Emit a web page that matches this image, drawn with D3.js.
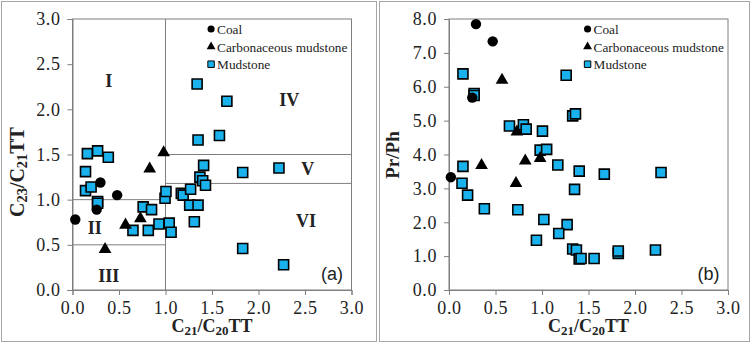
<!DOCTYPE html>
<html>
<head>
<meta charset="utf-8">
<script src="https://cdn.jsdelivr.net/npm/d3@7"></script>
<style>
  body { margin: 0; background: #fff; }
  svg { display: block; }
</style>
</head>
<body>
<div id="chart"></div>
<script>
// values, [x, y]
const coalA = [[0.03, 0.78], [0.26, 0.89], [0.30, 1.19], [0.48, 1.05]];
const carbA = [[0.35, 0.45], [0.57, 0.72], [0.73, 0.79], [0.83, 1.34], [0.98, 1.52]];
const mudA = [
  [1.34, 2.28], [1.66, 2.09], [1.58, 1.71], [1.35, 1.66],
  [0.16, 1.51], [0.27, 1.54], [0.385, 1.47], [0.14, 1.31], [0.14, 1.10], [0.20, 1.14],
  [0.27, 0.98], [0.27, 0.96], [0.76, 0.92], [0.85, 0.89], [0.65, 0.66], [0.815, 0.66],
  [0.93, 0.73], [1.04, 0.74], [1.06, 0.64], [0.995, 1.015], [1.005, 1.09],
  [1.17, 1.07], [1.19, 1.05], [1.27, 1.115], [1.26, 0.94], [1.35, 0.94], [1.31, 0.756],
  [1.41, 1.38], [1.37, 1.25], [1.40, 1.21], [1.43, 1.16], [1.83, 1.30], [2.22, 1.35],
  [1.83, 0.46], [2.27, 0.28]
];

const coalB = [[0.29, 7.85], [0.47, 7.34], [0.25, 5.68], [0.02, 3.33]];
const carbB = [[0.57, 6.2], [0.35, 3.68], [0.73, 4.67], [0.82, 3.81], [0.98, 3.89], [0.72, 3.15]];
const mudB = [
  [0.15, 6.38], [0.27, 5.8], [0.27, 5.74], [1.26, 6.34], [1.33, 5.14], [1.36, 5.2],
  [0.65, 4.84], [0.80, 4.88], [0.83, 4.75], [1.005, 4.69], [0.98, 4.13], [1.05, 4.15],
  [1.17, 3.69], [1.40, 3.51], [1.35, 2.97], [1.67, 3.42], [2.28, 3.47],
  [0.15, 3.65], [0.14, 3.15], [0.20, 2.8], [0.38, 2.4], [0.74, 2.37],
  [1.02, 2.08], [1.27, 1.93], [1.18, 1.67], [0.94, 1.47],
  [1.33, 1.21], [1.37, 1.18], [1.40, 0.92], [1.42, 0.93], [1.56, 0.93],
  [1.82, 1.08], [1.82, 1.15], [2.22, 1.18]
];

const xTicks = [0, 0.5, 1, 1.5, 2, 2.5, 3];
const yTicksA = [0, 0.5, 1, 1.5, 2, 2.5, 3];
const yTicksB = [0, 1, 2, 3, 4, 5, 6, 7, 8];

// field boundaries of panel (a): [x1, y1, x2, y2]
const linesA = [[1, 0, 1, 3], [0, 1, 1, 1], [0, 0.5, 1, 0.5], [1, 1.5, 3, 1.5], [1, 1.18, 3, 1.18]];
const regionNames = ["I", "II", "III", "IV", "V", "VI"];
const regionPos = [[0.39, 2.31], [0.24, 0.69], [0.39, 0.16], [2.33, 2.1], [2.53, 1.34], [2.51, 0.76]];

const legendNames = ["Coal", "Carbonaceous mudstone", "Mudstone"];

const blue = "#1ab2ec";
const serif = "'Liberation Serif', 'Times New Roman', serif";

const svg = d3.select("#chart").append("svg")
  .attr("width", 754)
  .attr("height", 345);

// panel frames
svg.append("rect").attr("x", 1.5).attr("y", 1.5).attr("width", 375).attr("height", 340)
  .attr("fill", "none").attr("stroke", "#a6a6a6");
svg.append("rect").attr("x", 379.5).attr("y", 1.5).attr("width", 370).attr("height", 340)
  .attr("fill", "none").attr("stroke", "#a6a6a6");

function subText(sel, parts) {
  parts.forEach(p => {
    const t = sel.append("tspan").text(p[0]);
    if (p[1]) t.attr("font-size", "0.72em").attr("baseline-shift", "-22%");
  });
}

function drawPanel(left, yMax, yTicks, coal, carb, mud, tag) {
  const x = d3.scaleLinear().domain([0, 3]).range([left, left + 279]);
  const y = d3.scaleLinear().domain([0, yMax]).range([290, 19]);
  const g = svg.append("g");

  // frame of plot area
  g.append("rect")
    .attr("x", x(0)).attr("y", y(yMax))
    .attr("width", x(3) - x(0)).attr("height", y(0) - y(yMax))
    .attr("fill", "none").attr("stroke", "#7f7f7f").attr("stroke-width", 1);

  const ax = g.append("g")
    .attr("transform", `translate(0,${y(0)})`)
    .call(d3.axisBottom(x).tickValues(xTicks).tickFormat(d3.format(".1f")).tickSize(5).tickPadding(6));
  const ay = g.append("g")
    .attr("transform", `translate(${x(0)},0)`)
    .call(d3.axisLeft(y).tickValues(yTicks).tickFormat(d3.format(".1f")).tickSize(5).tickPadding(7));
  [ax, ay].forEach(a => {
    a.attr("font-family", serif).attr("font-size", 18);
    a.select(".domain").attr("stroke", "#7f7f7f");
    a.selectAll(".tick line").attr("stroke", "#7f7f7f");
    a.selectAll(".tick text")
      .attr("font-family", serif).attr("font-size", 18).attr("letter-spacing", 0.6).attr("fill", "#222");
  });

  // layer for boundary lines, under the marks
  const under = g.append("g");

  const sym = d3.symbol();
  g.selectAll("path.mud").data(mud).join("path")
    .attr("class", "mud")
    .attr("transform", d => `translate(${x(d[0])},${y(d[1])})`)
    .attr("d", sym.type(d3.symbolSquare).size(100)())
    .attr("fill", blue).attr("stroke", "#000").attr("stroke-width", 1.6);
  g.selectAll("path.coal").data(coal).join("path")
    .attr("class", "coal")
    .attr("transform", d => `translate(${x(d[0])},${y(d[1])})`)
    .attr("d", sym.type(d3.symbolCircle).size(85)())
    .attr("fill", "#000");
  g.selectAll("path.carb").data(carb).join("path")
    .attr("class", "carb")
    .attr("transform", d => `translate(${x(d[0])},${y(d[1])})`)
    .attr("d", sym.type(d3.symbolTriangle).size(70)())
    .attr("fill", "#000");

  // legend
  const lx = x(1.49);
  const leg = g.selectAll("g.leg").data(legendNames).join("g")
    .attr("class", "leg")
    .attr("transform", (d, i) => `translate(${lx},${29 + i * 17.6})`);
  leg.append("path")
    .attr("d", (d, i) => d3.symbol().type([d3.symbolCircle, d3.symbolTriangle, d3.symbolSquare][i]).size([40, 34, 42][i])())
    .attr("fill", (d, i) => i === 2 ? blue : "#000")
    .attr("stroke", (d, i) => i === 2 ? "#000" : "none");
  leg.append("text")
    .attr("x", 6).attr("y", 5)
    .attr("font-family", serif).attr("font-size", 13.3).attr("fill", "#222")
    .text(d => d);

  // panel tag
  g.append("text")
    .attr("x", x(2.79)).attr("y", y(0) - 10)
    .attr("text-anchor", "middle")
    .attr("font-family", "'Liberation Sans', Arial, sans-serif").attr("font-size", 18).attr("fill", "#222")
    .text(tag);

  // x title
  const xt = g.append("text")
    .attr("x", x(1.5)).attr("y", 332)
    .attr("text-anchor", "middle")
    .attr("font-family", serif).attr("font-size", 18).attr("font-weight", "bold").attr("fill", "#222");
  subText(xt, [["C"], ["21", 1], ["/C"], ["20", 1], ["TT"]]);

  return { x, y, g, under };
}

const pa = drawPanel(72.5, 3, yTicksA, coalA, carbA, mudA, "(a)");
const pb = drawPanel(449, 8, yTicksB, coalB, carbB, mudB, "(b)");

// boundaries and field labels of panel (a)
pa.under.selectAll("line").data(linesA).join("line")
  .attr("x1", d => pa.x(d[0])).attr("y1", d => pa.y(d[1]))
  .attr("x2", d => pa.x(d[2])).attr("y2", d => pa.y(d[3]))
  .attr("stroke", "#7f7f7f").attr("stroke-width", 1);
pa.g.selectAll("text.region").data(regionNames).join("text")
  .attr("class", "region")
  .attr("x", (d, i) => pa.x(regionPos[i][0]))
  .attr("y", (d, i) => pa.y(regionPos[i][1]) + 6)
  .attr("text-anchor", "middle")
  .attr("font-family", serif).attr("font-size", 18).attr("font-weight", "bold").attr("fill", "#222")
  .text(d => d);

// y titles
const ytA = svg.append("text")
  .attr("transform", "translate(24,172) rotate(-90)")
  .attr("text-anchor", "middle")
  .attr("font-family", serif).attr("font-size", 20).attr("font-weight", "bold").attr("fill", "#222");
subText(ytA, [["C"], ["23", 1], ["/C"], ["21", 1], ["TT"]]);

svg.append("text")
  .attr("transform", "translate(399,155) rotate(-90)")
  .attr("text-anchor", "middle")
  .attr("font-family", serif).attr("font-size", 19).attr("font-weight", "bold").attr("fill", "#222")
  .text("Pr/Ph");
</script>
</body>
</html>
